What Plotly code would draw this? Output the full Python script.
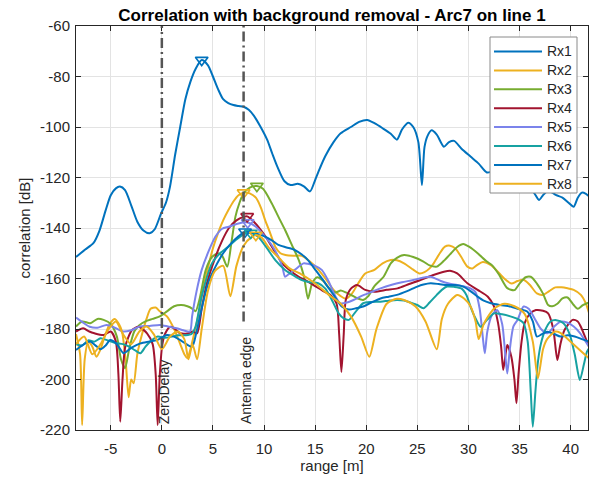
import numpy as np
import plotly.graph_objects as go

# ---- series data: range [m] and correlation [dB] per receiver ----
rx1_x = [-8.4, -7.5, -6.7, -6.1, -5.5, -5.0, -4.5, -4.1, -3.6, -3.0, -2.4, -1.8, -1.2, -0.7, -0.1, 0.4, 0.8, 1.3, 1.8, 2.3,
         2.8, 3.3, 3.9, 4.5, 5.0, 5.5, 6.0, 6.5, 7.0, 7.5, 8.0, 8.5, 9.0, 9.6, 10.3, 10.8, 11.3, 12.0, 12.6, 13.3,
         13.9, 14.5, 15.0, 15.5, 16.0, 16.8, 17.5, 18.5, 19.3, 20.1, 20.8, 21.6, 22.4, 23.0, 23.5, 24.1, 24.6, 25.1, 25.45, 25.7,
         26.0, 26.4, 26.9, 27.6, 28.1, 28.6, 29.3, 30.2, 31.0, 31.8, 32.4, 32.9, 33.5, 34.2, 35.0, 35.8, 36.4, 36.9, 37.3, 37.7,
         38.2, 38.6, 39.2, 39.8, 40.3, 40.7, 41.1, 41.5, 41.8]
rx1_y = [-151.5, -148.5, -146, -141, -133, -127, -124.3, -123.6, -125, -131, -137.5, -141, -142.1, -140.5, -134.5, -130, -123.6, -111, -99.9, -89,
         -82, -77, -73.5, -75.5, -80, -85, -89, -90.5, -91.3, -91.7, -92, -93.2, -95.5, -99.5, -105, -110.5, -115.7, -121.5, -123, -122.5,
         -123.5, -125.5, -121, -116, -111.5, -106, -102.5, -100, -98, -97.2, -98.5, -100.5, -102.7, -105, -101, -98.3, -100, -106, -123, -108,
         -103.5, -101.3, -103, -107.8, -106, -105.5, -108.5, -111.7, -114.5, -118, -117.5, -117, -118.5, -121, -123.5, -124, -126, -128.9, -127, -125.6,
         -126, -127, -128, -130, -131.6, -128, -126, -126.5, -127.5]

rx2_x = [-8.4, -8.0, -7.8, -7.55, -7.2, -6.8, -6.4, -6.0, -5.6, -5.1, -4.6, -4.2, -3.9, -3.55, -3.25, -3.0, -2.76, -2.4, -2.0, -1.5,
         -1.1, -0.6, -0.2, 0.5, 1.2, 1.8, 2.2, 2.5, 2.8, 3.1, 3.5, 4.0, 4.5, 5.0, 5.5, 6.0, 6.5, 7.0, 7.5, 8.0,
         8.6, 9.2, 9.7, 10.1, 10.6, 11.1, 11.6, 12.1, 12.9, 13.7, 14.4, 15.2, 16.0, 16.8, 17.5, 18.0, 18.6, 19.2, 19.9, 20.8,
         21.6, 22.4, 23.0, 23.7, 24.6, 25.2, 25.7, 26.2, 26.6, 27.2, 27.7, 28.2, 28.7, 29.3, 29.9, 30.4, 30.9, 31.4, 32.2, 32.8,
         33.5, 34.2, 34.8, 35.4, 36.0, 36.7, 37.3, 37.9, 38.5, 39.1, 39.7, 40.3, 41.0, 41.5, 41.9]
rx2_y = [-182, -190, -218, -192, -185, -187, -191, -188, -183, -178, -176, -178, -181, -192, -207, -200, -201.5, -190, -183, -176,
         -172, -171.5, -173, -175, -180, -186, -190, -191.5, -188, -183, -176, -165, -156, -148, -142, -137, -133, -129.5, -127, -126,
         -126.3, -128, -132, -136.8, -142, -147.4, -150, -150.7, -151, -151, -153, -156, -160, -164.5, -167, -168, -166, -162, -158, -156.6,
         -154, -152.7, -152.8, -154, -156.5, -158, -157.5, -156, -154, -150, -147.4, -147, -148, -151.5, -155.3, -156, -154.5, -153.5, -154.7, -157,
         -160, -162, -161, -160.5, -162.5, -165.9, -166.5, -165, -163.5, -163.5, -163.9, -164.5, -166.5, -170, -175]

rx3_x = [-8.4, -7.8, -7.0, -6.3, -5.7, -5.0, -4.4, -4.0, -3.6, -3.2, -2.7, -2.2, -1.6, -0.9, -0.2, 0.5, 1.2, 1.9, 2.5, 3.0,
         3.3, 3.7, 4.3, 4.9, 5.5, 5.9, 6.4, 6.8, 7.2, 7.6, 8.0, 8.6, 9.3, 9.9, 10.75, 11.4, 12.06, 12.7, 13.4, 13.9,
         14.3, 14.7, 15.2, 15.8, 16.4, 17.0, 17.5, 18.0, 18.5, 19.1, 19.7, 20.2, 20.8, 21.7, 22.4, 23.0, 23.7, 24.6, 25.6, 26.2,
         26.9, 27.6, 28.3, 28.9, 29.5, 30.1, 30.9, 31.8, 32.3, 33.0, 33.8, 34.5, 35.0, 35.6, 36.1, 36.7, 37.3, 37.8, 38.2, 38.7,
         39.2, 39.7, 40.3, 40.7, 41.2, 41.8]
rx3_y = [-179, -177, -177.7, -176, -176.4, -178, -183, -192, -195.5, -188, -181, -178.5, -177, -176, -175, -173, -171, -170.5, -171, -172,
         -173, -168, -156.6, -151.5, -150, -151, -155.3, -146, -135.5, -130, -126.3, -124, -123.4, -124.5, -130.2, -135.5, -140.8, -146.5, -152.7, -159,
         -168, -162, -159.5, -161, -164, -165.5, -164.8, -165.5, -166.5, -167.8, -168.5, -167, -163, -159.3, -154, -151.8, -150.7, -151.5, -153.3, -154.8,
         -155.3, -153, -150, -147.5, -146.3, -147.5, -150, -153.3, -154.7, -158.5, -163.8, -164.6, -162, -159.5, -159.3, -162, -166, -170.5, -171, -170,
         -167.9, -167.5, -170.5, -172, -170.5, -169.5]

rx4_x = [-8.4, -7.7, -7.1, -6.6, -5.7, -5.0, -4.5, -4.25, -4.07, -3.85, -3.58, -2.92, -2.27, -1.45, -0.9, -0.6, -0.41, -0.2, 0.05, 0.34,
         0.83, 1.3, 1.8, 2.6, 3.0, 3.45, 3.9, 4.4, 5.25, 5.9, 6.55, 7.3, 8.0, 8.35, 9.0, 10.15, 11.0, 11.8, 12.6, 13.4,
         14.2, 15.0, 15.8, 16.5, 17.1, 17.35, 17.57, 17.8, 18.0, 18.5, 19.1, 19.9, 20.8, 22.0, 23.06, 24.2, 25.3, 26.5, 27.6, 28.3,
         28.9, 29.9, 30.9, 31.9, 32.5, 32.9, 33.2, 33.4, 33.6, 33.8, 34.2, 34.5, 34.7, 34.9, 35.2, 35.5, 36.0, 36.6, 37.3, 37.8,
         38.3, 38.7, 39.0, 39.4, 40.2, 40.7, 41.0, 41.5, 41.8]
rx4_y = [-181, -179.7, -181, -181.7, -182.4, -181, -185, -198, -216.7, -200, -187, -180.4, -179.1, -181.7, -186, -198, -218, -198, -186, -181.7,
         -179.1, -180, -181.7, -181.7, -181, -181.7, -172, -162, -151.4, -145, -140.1, -137, -135.6, -135.4, -137.5, -143.4, -149, -154, -157, -159.3,
         -161, -163, -165, -166.5, -170, -182, -197, -182, -168.5, -164, -162.6, -164.5, -165.2, -164.5, -163.9, -162.2, -160.6, -158.7, -157.3, -157,
         -158, -161.9, -164.5, -167.2, -171, -177.7, -187, -196.2, -191, -186.3, -191, -200, -209.4, -198, -185, -177.7, -174, -172.5, -172.8, -173.8,
         -180, -192.3, -186, -180.4, -176.4, -177, -179.1, -184, -187]

rx5_x = [-8.4, -7.7, -7.06, -6.3, -5.4, -4.6, -3.8, -3.0, -2.16, -1.2, -0.2, 0.6, 1.44, 2.1, 2.75, 2.96, 3.4, 3.9, 4.6, 5.25,
         5.9, 6.55, 7.4, 8.4, 9.2, 10.1, 10.8, 11.4, 11.8, 12.06, 12.5, 13.0, 13.85, 14.3, 15.0, 15.65, 16.3, 17.0, 17.45, 18.1,
         18.75, 19.5, 20.4, 21.4, 22.5, 23.5, 24.6, 25.4, 26.3, 27.3, 28.1, 28.9, 29.6, 30.2, 30.7, 31.1, 31.4, 31.6, 31.85, 32.3,
         32.8, 33.3, 33.6, 33.8, 34.05, 34.4, 34.8, 35.4, 35.9, 36.5, 37.1, 37.7, 38.4, 39.0, 39.7, 40.3, 40.9, 41.4, 41.8]
rx5_y = [-175.5, -177.5, -179.1, -179.5, -178.4, -179.5, -181, -180.5, -179, -178.8, -178.4, -179, -179.7, -180.5, -181, -175, -165, -156.6, -149, -143.4,
         -140.3, -139.5, -138.3, -137.8, -139.5, -143.4, -147, -151.4, -155.5, -159.3, -158, -156.6, -154, -154.2, -155, -156.6, -161, -167.2, -169.8, -169.5,
         -168.5, -167, -165.5, -163.9, -162.5, -161.5, -160.6, -159.8, -159.3, -161, -162, -162.6, -163.2, -163.9, -165.5, -172, -183, -189.6, -181, -174.5,
         -172.5, -178, -190, -197.6, -188, -179, -176.4, -171.1, -172, -176, -180, -181.7, -179, -177.1, -177.5, -179, -181.5, -184.5, -187]

rx6_x = [-8.4, -7.8, -7.2, -6.6, -6.0, -5.3, -4.6, -3.8, -3.2, -2.6, -2.1, -1.6, -1.0, -0.4, 0.3, 1.0, 1.6, 2.3, 2.9, 3.3,
         3.9, 4.9, 5.7, 6.5, 7.3, 8.14, 8.7, 9.4, 10.2, 11.1, 12.06, 12.9, 13.7, 14.5, 15.3, 16.0, 16.7, 17.3, 17.8, 18.3,
         18.9, 19.7, 20.5, 21.4, 22.2, 23.0, 23.7, 24.3, 25.0, 25.6, 26.2, 26.9, 27.4, 27.9, 28.6, 29.3, 29.8, 30.2, 30.6, 31.2,
         31.8, 32.5, 33.3, 34.1, 34.8, 35.4, 35.8, 36.1, 36.3, 36.55, 36.8, 37.1, 37.5, 38.0, 38.6, 39.3, 39.9, 40.4, 40.9, 41.3,
         41.6, 41.9]
rx6_y = [-186, -186.5, -184.5, -185, -183.7, -184.5, -185.5, -186, -187, -188.5, -189.6, -187, -184.5, -183, -183.5, -183, -182.5, -182.5, -182, -179,
         -167, -154, -150, -147.4, -144.5, -142.3, -142, -143.4, -147.5, -152.7, -156.6, -158.8, -160.6, -161.5, -161.9, -164, -169, -173.8, -175.8, -176.4,
         -173.5, -169.8, -169.3, -169.2, -168.8, -168.5, -168.7, -169.5, -170.5, -171.8, -169.5, -166.5, -164.5, -163.2, -163.3, -163.9, -166.5, -171.1, -175, -179.1,
         -176.5, -173.8, -174.2, -175, -176, -177.7, -185, -205, -218.7, -205, -193, -185.7, -180.5, -177.1, -176.5, -177.7, -182, -190, -200.2, -194,
         -189, -187]

rx7_x = [-8.4, -7.6, -7.0, -6.5, -6.0, -5.5, -5.05, -4.4, -3.75, -3.0, -2.1, -1.3, -0.47, 0.5, 1.2, 1.8, 2.4, 2.96, 3.4, 4.0,
         4.6, 5.25, 6.0, 6.8, 7.5, 8.14, 9.0, 10.1, 10.8, 11.4, 12.2, 13.0, 13.7, 14.3, 15.1, 16.0, 16.8, 17.6, 18.3, 19.0,
         19.7, 20.5, 21.4, 22.2, 23.0, 24.0, 25.0, 25.6, 26.3, 27.1, 27.9, 28.7, 29.5, 30.2, 30.9, 31.5, 32.2, 33.1, 34.1, 35.0,
         35.75, 36.3, 36.7, 37.2, 37.7, 38.4, 39.0, 39.7, 40.4, 41.1, 41.8]
rx7_y = [-188.3, -186, -185, -186.5, -188, -186.5, -184.4, -186, -189.6, -187.5, -185.7, -185, -184.4, -182.4, -183, -184.4, -186, -187, -181, -170,
         -161, -155.3, -150, -146, -143.3, -141.5, -142, -143.4, -145, -146.7, -147.7, -148.7, -150.5, -152.7, -157, -161.9, -166.5, -171.1, -172.3, -171.8,
         -171.1, -169.5, -167.9, -167.2, -166.5, -165, -163.2, -162.4, -161.9, -162.2, -162.6, -162.6, -163.2, -165, -167.2, -168.8, -169.8, -170.5, -171.1, -172.2,
         -173.1, -177, -183, -182, -181.1, -182, -183, -182.5, -183, -184, -185]

rx8_x = [-8.4, -7.6, -6.8, -6.0, -5.2, -4.5, -3.8, -3.0, -2.2, -1.5, -0.8, 0.0, 0.8, 1.6, 2.2, 2.6, 3.0, 3.45, 3.9, 4.5,
         5.2, 6.0, 6.7, 7.3, 8.0, 8.8, 9.2, 9.8, 10.5, 11.5, 12.5, 13.5, 15.0, 16.5, 17.5, 18.5, 19.5, 20.3, 21.0, 22.0,
         23.0, 23.7, 24.8, 25.8, 26.9, 27.4, 28.0, 28.9, 29.6, 30.2, 30.7, 31.0, 31.5, 32.5, 33.5, 34.5, 35.5, 36.3, 36.8, 37.3,
         37.7, 38.5, 39.0, 40.0, 41.9]
rx8_y = [-186, -183, -190, -186, -180, -177, -182, -186, -181, -179, -182, -188, -183, -181, -184, -192, -186, -192, -180, -165,
         -157, -155, -167, -155, -147, -143.5, -142.8, -144, -148, -152, -156, -158, -162, -167, -170, -175, -183, -191, -180, -170,
         -168, -168.5, -171, -177, -188, -176, -170, -166.5, -168, -171, -177, -184, -178, -172, -170, -171, -174, -185, -199.5, -188,
         -184, -181, -181.5, -185, -192]

names = ["Rx1", "Rx2", "Rx3", "Rx4", "Rx5", "Rx6", "Rx7", "Rx8"]
xs = [rx1_x, rx2_x, rx3_x, rx4_x, rx5_x, rx6_x, rx7_x, rx8_x]
ys = [rx1_y, rx2_y, rx3_y, rx4_y, rx5_y, rx6_y, rx7_y, rx8_y]
colors = ["#0072BD", "#EDB120", "#77AC30", "#A2142F", "#7B83EB", "#17A2A2", "#0072BD", "#EDB120"]

# reference positions marked with vertical dash-dot lines
ref_x = [0, 8]
ref_labels = ["ZeroDelay", "Antenna edge"]
ref_line_bottom = [-187.5, -177.0]   # the line stops where its label begins

x_range = [-8.4, 41.7]
y_range = [-220, -60]
x_ticks = [-5, 0, 5, 10, 15, 20, 25, 30, 35, 40]
y_ticks = [-220, -200, -180, -160, -140, -120, -100, -80, -60]

FONT = "Liberation Sans, Arial, sans-serif"
AX = "#262626"

# plot-area geometry in pixels (used to place the legend box in paper units)
W, H = 590, 481
ML, MR, MT, MB = 76, 2, 26, 51
PW, PH = W - ML - MR, H - MT - MB


def px_x(p):
    return (p - ML) / PW


def px_y(p):
    return (H - MB - p) / PH


fig = go.Figure()

for name, x, y, c in zip(names, xs, ys, colors):
    fig.add_trace(go.Scatter(
        x=x, y=y, name=name, mode="lines", showlegend=False,
        line=dict(color=c, width=2, shape="spline", smoothing=0.7),
    ))

# peak markers
for name, x, y, c in zip(names, xs, ys, colors):
    i = int(np.argmax(y))
    fig.add_trace(go.Scatter(
        x=[x[i]], y=[y[i]], mode="markers", showlegend=False, hoverinfo="skip",
        marker=dict(symbol="triangle-down-open", size=11, color=c, line=dict(width=1.6, color=c)),
    ))

for xv, lab, yb in zip(ref_x, ref_labels, ref_line_bottom):
    fig.add_shape(type="line", xref="x", yref="y", x0=xv, x1=xv, y0=yb, y1=y_range[1],
                  line=dict(color="#555555", width=2.5, dash="10px,4px,2px,4px"), layer="above")
    fig.add_annotation(x=xv, y=y_range[0], xref="x", yref="y", text=lab, textangle=-90,
                       showarrow=False, xanchor="center", yanchor="bottom", xshift=2, yshift=4,
                       font=dict(family=FONT, size=14, color=AX))

# legend box (MATLAB style: long line samples, compact rows)
leg_left, leg_right, leg_top, leg_bottom = 490, 577, 37, 193
fig.add_shape(type="rect", xref="paper", yref="paper",
              x0=px_x(leg_left), x1=px_x(leg_right), y0=px_y(leg_bottom), y1=px_y(leg_top),
              line=dict(color="#8a8a8a", width=1), fillcolor="white", layer="above")
row0, row_step = 51.5, 18.9
for k, (name, c) in enumerate(zip(names, colors)):
    yy = px_y(row0 + k * row_step)
    fig.add_shape(type="line", xref="paper", yref="paper",
                  x0=px_x(494), x1=px_x(542), y0=yy, y1=yy,
                  line=dict(color=c, width=2), layer="above")
    fig.add_annotation(x=px_x(545), y=yy, xref="paper", yref="paper", text=name,
                       showarrow=False, xanchor="left", yanchor="middle",
                       font=dict(family=FONT, size=14, color=AX))

fig.update_layout(
    width=W, height=H,
    margin=dict(l=ML, r=MR, t=MT, b=MB),
    paper_bgcolor="white", plot_bgcolor="white",
    font=dict(family=FONT, size=15, color=AX),
    title=dict(text="<b>Correlation with background removal - Arc7 on line 1</b>",
               x=0.5, xref="paper", xanchor="center", y=1 - 15 / H, yref="container", yanchor="middle",
               font=dict(family=FONT, size=17, color="#000000")),
    showlegend=False,
)

fig.update_xaxes(
    range=x_range, tickvals=x_ticks, ticktext=[str(t) for t in x_ticks],
    showgrid=True, gridcolor="#e3e3e3", gridwidth=1, zeroline=False,
    showline=True, linecolor=AX, linewidth=1, mirror="ticks",
    ticks="inside", ticklen=5, tickcolor=AX, tickfont=dict(size=15, color=AX),
    ticklabelstandoff=5,
    title=dict(text="range [m]", font=dict(size=15, color=AX), standoff=4),
)
fig.update_yaxes(
    range=y_range, tickvals=y_ticks, ticktext=[str(t) for t in y_ticks],
    showgrid=True, gridcolor="#e3e3e3", gridwidth=1, zeroline=False,
    showline=True, linecolor=AX, linewidth=1, mirror="ticks",
    ticks="inside", ticklen=5, tickcolor=AX, tickfont=dict(size=15, color=AX),
    ticklabelstandoff=2,
    title=dict(text="correlation [dB]", font=dict(size=15, color=AX), standoff=5),
)

fig.write_html("out.html")
